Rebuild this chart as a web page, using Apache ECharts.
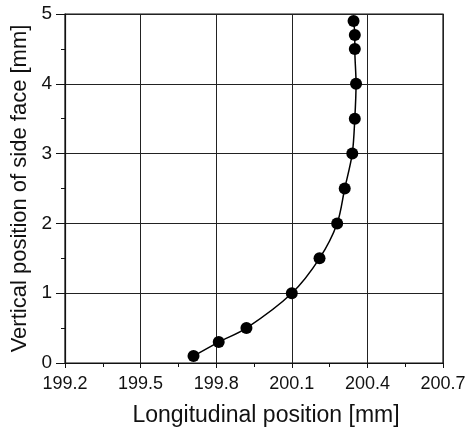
<!DOCTYPE html>
<html>
<head>
<meta charset="utf-8">
<script src="https://cdn.jsdelivr.net/npm/echarts@6/dist/echarts.min.js"></script>
<style>html,body{margin:0;padding:0;background:#fff;}#c{width:474px;height:429px;}</style>
</head>
<body>
<div id="c"></div>
<script>
const xValues = [199.71, 199.81, 199.92, 200.10, 200.21, 200.28, 200.31, 200.34, 200.35, 200.355, 200.35, 200.35, 200.345];
const yValues = [0.1, 0.3, 0.5, 1.0, 1.5, 2.0, 2.5, 3.0, 3.5, 4.0, 4.5, 4.7, 4.9];
const xTicks = [199.2, 199.5, 199.8, 200.1, 200.4, 200.7];
const yTicks = [0, 1, 2, 3, 4, 5];
const xTitle = 'Longitudinal position [mm]';
const yTitle = 'Vertical position of side face [mm]';

const data = xValues.map((x, i) => [x, yValues[i]]);
const font = 'Liberation Sans, Arial, Helvetica, sans-serif';
const chart = echarts.init(document.getElementById('c'));
chart.setOption({
  animation: false,
  backgroundColor: '#fff',
  grid: { left: 65, right: 31, top: 14, bottom: 66, show: true, borderColor: '#111', borderWidth: 1.2,
    containLabel: false, outerBoundsMode: 'none' },
  xAxis: {
    type: 'value', min: xTicks[0], max: xTicks[xTicks.length - 1], interval: 0.3,
    name: xTitle, nameLocation: 'middle', nameGap: 41,
    nameTextStyle: { color: '#111', fontSize: 23, fontFamily: font, padding: [0, 0, 0, 24] },
    axisLine: { onZero: false, lineStyle: { color: '#111', width: 1.2 } },
    axisTick: { show: true, length: 5, inside: false, lineStyle: { color: '#111' } },
    minorTick: { show: true, splitNumber: 2, length: 4, lineStyle: { color: '#111' } },
    axisLabel: { color: '#111', fontSize: 18, fontFamily: font, margin: 12,
      formatter: v => v.toFixed(1) },
    splitLine: { show: true, lineStyle: { color: '#222', width: 1 } }
  },
  yAxis: {
    type: 'value', min: yTicks[0], max: yTicks[yTicks.length - 1], interval: 1,
    name: yTitle, nameLocation: 'middle', nameGap: 32, nameRotate: 90,
    nameTextStyle: { color: '#111', fontSize: 22, fontFamily: font },
    axisLine: { onZero: false, lineStyle: { color: '#111', width: 1.2 } },
    axisTick: { show: true, length: 9, inside: false, lineStyle: { color: '#111' } },
    minorTick: { show: true, splitNumber: 2, length: 4, lineStyle: { color: '#111' } },
    axisLabel: { color: '#111', fontSize: 19, fontFamily: font, margin: 13 },
    splitLine: { show: true, lineStyle: { color: '#222', width: 1 } }
  },
  series: [{
    type: 'line', data: data, smooth: 0.3,
    symbol: 'circle', symbolSize: 12,
    itemStyle: { color: '#000' },
    lineStyle: { color: '#000', width: 1.5 }
  }]
});
</script>
</body>
</html>
